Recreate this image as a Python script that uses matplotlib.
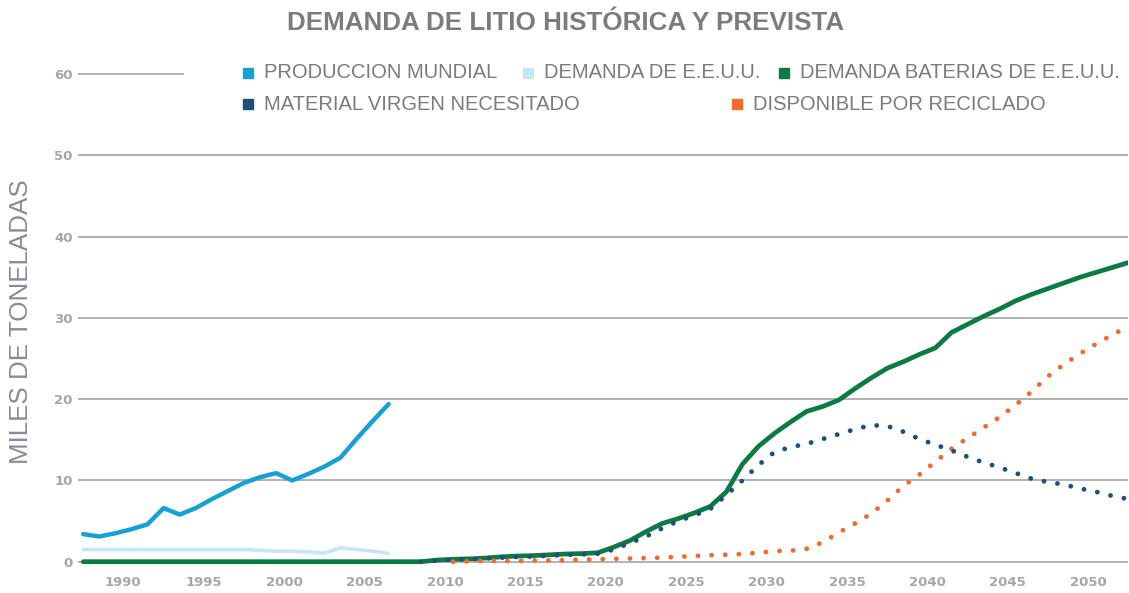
import matplotlib
matplotlib.use("Agg")
import matplotlib.pyplot as plt
from matplotlib.lines import Line2D

# historic series, 1988-2007 (thousand tonnes)
hist_years = list(range(1988, 2008))
world_production = [3.4, 3.1, 3.5, 4.0, 4.6, 6.6, 5.8, 6.6, 7.7, 8.7,
                    9.7, 10.4, 10.9, 10.0, 10.8, 11.7, 12.8, 15.1, 17.3, 19.4]
us_demand = [1.5, 1.5, 1.5, 1.5, 1.5, 1.5, 1.5, 1.5, 1.5, 1.5,
             1.5, 1.4, 1.3, 1.3, 1.2, 1.05, 1.7, 1.5, 1.3, 1.0]

# US battery demand, 1988-2053
battery_years = list(range(1988, 2054))
us_battery_demand = [0, 0, 0, 0, 0, 0, 0, 0, 0, 0, 0, 0, 0, 0, 0, 0, 0, 0, 0, 0, 0, 0,
                     0.2, 0.3, 0.35, 0.45, 0.6, 0.7, 0.75, 0.85, 0.95, 1.0,
                     1.1, 1.8, 2.6, 3.7, 4.7, 5.3, 6.0, 6.8, 8.6, 12.0,
                     14.2, 15.8, 17.2, 18.5, 19.1, 19.9, 21.3, 22.6, 23.8, 24.6,
                     25.5, 26.3, 28.2, 29.2, 30.2, 31.1, 32.1, 32.9, 33.6, 34.3,
                     35.0, 35.6, 36.2, 36.8]

# virgin material needed, 2009-2053
virgin_years = list(range(2009, 2054))
virgin_material = [0, 0.15, 0.25, 0.3, 0.4, 0.5, 0.6, 0.65, 0.75, 0.85,
                   0.9, 1.0, 1.5, 2.3, 3.1, 4.1, 5.0, 5.7, 6.5, 8.2,
                   10.0, 11.9, 13.5, 14.1, 14.5, 15.1, 15.7, 16.3, 16.8, 16.7,
                   16.0, 15.1, 14.4, 13.7, 12.9, 12.2, 11.6, 10.9, 10.2, 9.8,
                   9.5, 9.0, 8.6, 8.1, 7.7]

# available from recycling, 2011-2053
recycled_years = list(range(2011, 2054))
recycled = [0.0, 0.05, 0.1, 0.1, 0.1, 0.15, 0.15, 0.2, 0.25, 0.3,
            0.35, 0.4, 0.45, 0.5, 0.6, 0.7, 0.8, 0.85, 0.95, 1.1,
            1.3, 1.35, 1.6, 2.4, 3.6, 4.7, 5.9, 7.5, 9.3, 10.7,
            12.3, 13.9, 15.2, 16.5, 17.8, 19.3, 20.96, 22.8, 24.3, 25.6,
            26.8, 27.9, 29.0]

tick_years = [1990, 1995, 2000, 2005, 2010, 2015, 2020, 2025, 2030, 2035, 2040, 2045, 2050]
y_ticks = [0, 10, 20, 30, 40, 50, 60]

labels = ["PRODUCCION MUNDIAL", "DEMANDA DE E.E.U.U.", "DEMANDA BATERIAS DE E.E.U.U.",
          "MATERIAL VIRGEN NECESITADO", "DISPONIBLE POR RECICLADO"]
colours = ["#17a0d3", "#c4e6f7", "#0b7b43", "#1f4f7d", "#f26a2e"]

SANS = ["Liberation Sans", "DejaVu Sans"]
GRID = "#ababab"
TICK_C = "#a6a6a6"
DOTS = (0, (0.001, 2.8))

fig = plt.figure(figsize=(11.29, 5.93), dpi=100)
fig.patch.set_facecolor("white")
ax = fig.add_axes([0.0694, 0.0459, 0.930, 0.843])

for v in y_ticks[:-1]:
    ax.axhline(v, color=GRID, lw=1.3, zorder=1)
ax.axhline(60, xmax=0.1, color=GRID, lw=1.3, zorder=1)   # rest hidden by legend

ax.plot(hist_years, us_demand, color=colours[1], lw=2.6, solid_capstyle="round", zorder=2)
ax.plot(hist_years, world_production, color=colours[0], lw=3.2,
        solid_capstyle="round", solid_joinstyle="round", zorder=3)
ax.plot(battery_years, us_battery_demand, color=colours[2], lw=3.4,
        solid_capstyle="round", solid_joinstyle="round", zorder=4)
ax.plot(recycled_years, recycled, color=colours[4], lw=3.5, linestyle=DOTS,
        dash_capstyle="round", zorder=5)
ax.plot(virgin_years, virgin_material, color=colours[3], lw=3.5, linestyle=DOTS,
        dash_capstyle="round", zorder=6)

ax.set_xlim(1987.7, 2053.0)
ax.set_ylim(-0.5, 61)
# each year occupies a band; labels sit in the middle of it
ax.set_xticks([y + 0.5 for y in tick_years])
ax.set_xticklabels([str(y) for y in tick_years])
ax.set_yticks(y_ticks)
ax.tick_params(length=0, labelcolor=TICK_C, labelsize=9.5)
ax.tick_params(axis="x", pad=7)
ax.tick_params(axis="y", pad=4)
for t in ax.get_xticklabels() + ax.get_yticklabels():
    t.set_fontweight("bold")
for s in ax.spines.values():
    s.set_visible(False)

fig.text(0.019, 0.457, "MILES DE TONELADAS", rotation=90, ha="center", va="center",
         fontsize=18.7, color="#8a8a98", family=SANS)
fig.text(0.501, 0.962, "DEMANDA DE LITIO HISTÓRICA Y PREVISTA", ha="center", va="center",
         fontsize=18.7, fontweight="bold", color="#7c7c7c", family=SANS)

# hand-placed legend (figure pixels, measured from the top)
W, H = 1129, 593
legend_spots = [(248, 73), (528, 73), (784, 73), (248, 104), (737, 104)]
for (px, py), lab, col in zip(legend_spots, labels, colours):
    fig.add_artist(Line2D([px / W], [1 - py / H], marker="s", markersize=7.5,
                          color=col, lw=0, transform=fig.transFigure))
    fig.text((px + 16) / W, 1 - py / H, lab, ha="left", va="center",
             fontsize=14.5, color="#7b7b7b", family=SANS)

fig.savefig("out.png", dpi=100, facecolor="white")
